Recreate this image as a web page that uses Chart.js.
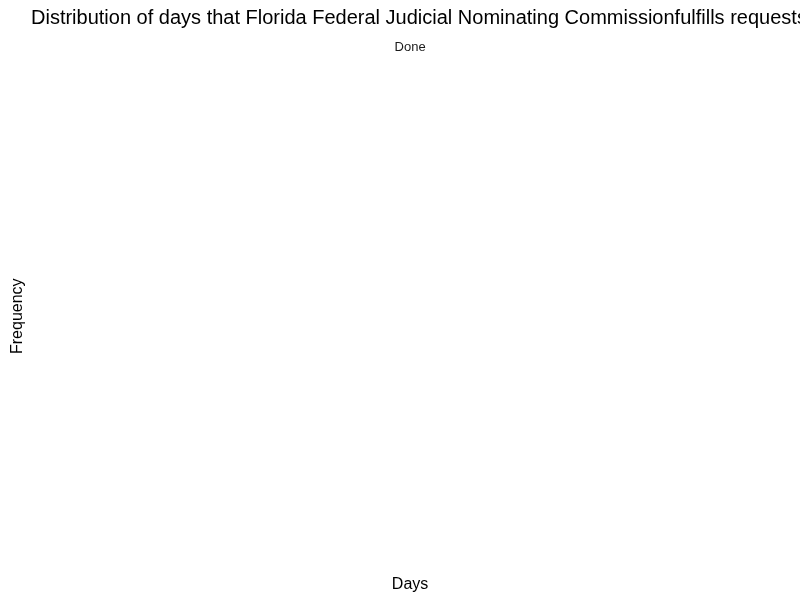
<!DOCTYPE html>
<html>
<head>
<meta charset="utf-8">
<script src="https://cdn.jsdelivr.net/npm/chart.js@4/dist/chart.umd.min.js"></script>
<style>
  html, body { margin: 0; padding: 0; background: #ffffff; }
  #wrap { width: 800px; height: 600px; }
</style>
</head>
<body>
<div id="wrap"><canvas id="c" width="800" height="600"></canvas></div>
<script>
const categories = [];
const frequencies = [];
const titleText = 'Distribution of days that Florida Federal Judicial Nominating Commissionfulfills requests';
const subtitleText = 'Done';
const xTitle = 'Days';
const yTitle = 'Frequency';

const font = "'Liberation Sans', Arial, Helvetica, sans-serif";

// Draws the long title left-aligned without squeezing it to the box width
const leftTitle = {
  id: 'leftTitle',
  afterDraw(chart) {
    const ctx = chart.ctx;
    ctx.save();
    ctx.font = '20px ' + font;
    ctx.fillStyle = '#000000';
    ctx.textAlign = 'left';
    ctx.textBaseline = 'middle';
    ctx.fillText(titleText, 31, 18);
    ctx.restore();
  }
};

new Chart(document.getElementById('c'), {
  type: 'bar',
  data: {
    labels: categories,
    datasets: [{ label: 'Frequency', data: frequencies, backgroundColor: '#595959' }]
  },
  plugins: [leftTitle],
  options: {
    responsive: false,
    animation: false,
    layout: { padding: { left: 0, right: 11, top: 40, bottom: 6 } },
    plugins: {
      legend: { display: false },
      tooltip: { enabled: false },
      title: { display: false },
      subtitle: {
        display: true, text: subtitleText, fullSize: false,
        color: '#1a1a1a', font: { family: font, size: 13, weight: 'normal' },
        padding: { top: 0, bottom: 2 }
      }
    },
    scales: {
      x: {
        display: true,
        grid: { display: false, drawTicks: false },
        border: { display: false },
        ticks: { display: false },
        title: { display: true, text: xTitle, color: '#000000', font: { family: font, size: 16 }, padding: { top: 0, bottom: 0 } }
      },
      y: {
        display: true,
        grid: { display: false, drawTicks: false },
        border: { display: false },
        ticks: { display: false },
        title: { display: true, text: yTitle, color: '#000000', font: { family: font, size: 16 }, padding: { top: 8, bottom: 4 } }
      }
    }
  }
});
</script>
</body>
</html>
